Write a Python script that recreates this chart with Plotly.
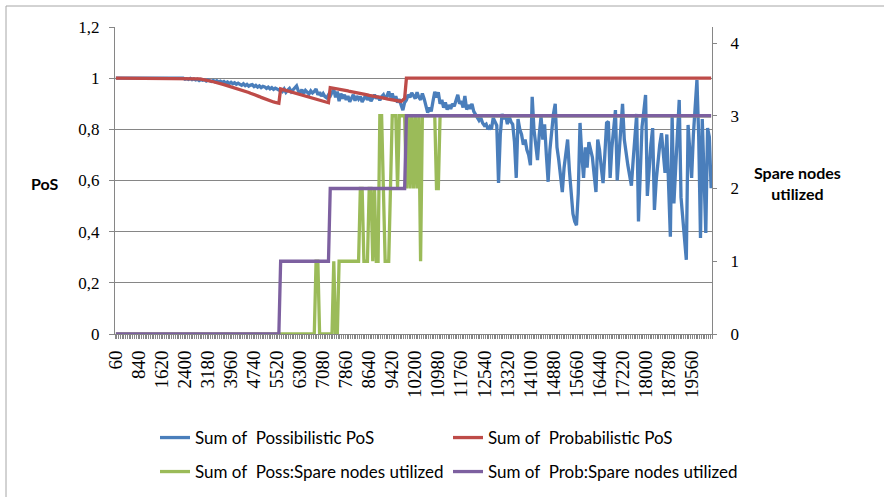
import plotly.graph_objects as go

# Elapsed time in seconds (one sample every 60 s) and the labelled categories
SECONDS = list(range(60, 20221, 60))
TICK_SECONDS = SECONDS[::13]
TICK_LABELS = [str(s) for s in TICK_SECONDS]

POS_TICKS = [0, 0.2, 0.4, 0.6, 0.8, 1.0, 1.2]
POS_TICK_TEXT = ["0", "0,2", "0,4", "0,6", "0,8", "1", "1,2"]
NODE_TICKS = [0, 1, 2, 3, 4]

POSSIBILISTIC_POS = (
    [1.0] * 36
    + [0.999, 0.997, 1.0, 0.996, 0.998, 0.995, 0.999, 0.994, 0.997, 0.993,
       0.996, 0.991, 0.995, 0.992, 0.994, 0.989, 0.993, 0.99, 0.987, 0.991,
       0.986, 0.99, 0.985, 0.988, 0.983, 0.987, 0.981, 0.985, 0.979, 0.984,
       0.978, 0.982, 0.976, 0.98, 0.977, 0.972, 0.978, 0.971, 0.976, 0.969,
       0.973, 0.975, 0.967, 0.972, 0.965, 0.97, 0.963, 0.968, 0.966, 0.96,
       0.965, 0.958, 0.963, 0.956, 0.961, 0.958, 0.954]
    + [0.955, 0.948, 0.958, 0.945, 0.953, 0.96, 0.947, 0.955, 0.962, 0.97,
       0.95, 0.943, 0.955, 0.94, 0.952, 0.946, 0.938, 0.95, 0.942, 0.948,
       0.958, 0.935, 0.945, 0.93, 0.94, 0.928, 0.923, 0.935]
    + [0.93, 0.945, 0.955, 0.925, 0.948, 0.91, 0.94, 0.92, 0.935, 0.915,
       0.93, 0.908, 0.925, 0.935, 0.912, 0.93, 0.918, 0.928, 0.907, 0.924,
       0.933, 0.915, 0.928, 0.91, 0.925, 0.935, 0.92, 0.93, 0.913, 0.928,
       0.935, 0.918, 0.93, 0.948, 0.925, 0.94, 0.915, 0.93, 0.905, 0.918,
       0.895, 0.875, 0.905]
    + [0.915, 0.935, 0.925, 0.943, 0.93, 0.92, 0.945, 0.925, 0.915, 0.94,
       0.92, 0.895, 0.865, 0.885, 0.87, 0.91, 0.947, 0.925, 0.945, 0.9,
       0.915, 0.885, 0.905, 0.877, 0.895, 0.88, 0.9, 0.89, 0.912, 0.935,
       0.9, 0.91, 0.885, 0.93, 0.877, 0.895, 0.88, 0.9, 0.87, 0.86,
       0.85, 0.835, 0.845, 0.825, 0.815, 0.82, 0.8, 0.81, 0.8, 0.845,
       0.83, 0.815]
    + [0.59, 0.78, 0.86, 0.84, 0.855, 0.82, 0.85, 0.83, 0.82, 0.75,
       0.61, 0.84, 0.8, 0.78, 0.74, 0.76, 0.72, 0.7, 0.66, 0.927,
       0.8, 0.75, 0.68, 0.78, 0.85, 0.76, 0.82, 0.7, 0.595, 0.72,
       0.8, 0.86, 0.9, 0.73, 0.68, 0.62, 0.555, 0.65, 0.72, 0.76,
       0.64, 0.535, 0.47, 0.44, 0.425, 0.55, 0.825, 0.7, 0.61, 0.73,
       0.65, 0.75, 0.72, 0.69, 0.62, 0.555, 0.76, 0.72, 0.65, 0.59,
       0.7, 0.825, 0.83, 0.61, 0.73, 0.8, 0.875, 0.6, 0.7, 0.8,
       0.9, 0.76, 0.7, 0.66, 0.62, 0.58, 0.68, 0.77, 0.86, 0.44,
       0.62, 0.81, 0.87, 0.934, 0.54, 0.65, 0.74, 0.805, 0.485, 0.6,
       0.69, 0.74, 0.785, 0.7, 0.63, 0.78, 0.58, 0.38, 0.85, 0.51,
       0.65, 0.8, 0.915, 0.535, 0.45, 0.37, 0.29, 0.817, 0.7, 0.61,
       0.78, 0.9, 0.993, 0.77, 0.375, 0.84, 0.6, 0.395, 0.805, 0.77,
       0.57]
)

PROBABILISTIC_POS = (
    [1.0] * 45
    + [0.999, 0.998, 0.997, 0.996, 0.995, 0.994, 0.992, 0.991, 0.989, 0.988,
       0.986, 0.984, 0.983, 0.981, 0.979, 0.977, 0.975, 0.973, 0.971, 0.969,
       0.967, 0.965, 0.963, 0.961, 0.958, 0.956, 0.954, 0.951, 0.949, 0.946,
       0.944, 0.941, 0.939, 0.936, 0.933, 0.931, 0.928, 0.925, 0.922, 0.92,
       0.917, 0.914, 0.912, 0.909, 0.907, 0.905, 0.903, 0.902]
    + [0.958, 0.956, 0.954, 0.952, 0.95, 0.948, 0.946, 0.944, 0.942, 0.94,
       0.938, 0.936, 0.934, 0.932, 0.93, 0.928, 0.926, 0.924, 0.922, 0.92,
       0.918, 0.916, 0.914, 0.912, 0.91, 0.908, 0.906, 0.904]
    + [0.963, 0.962, 0.96, 0.959, 0.958, 0.956, 0.955, 0.954, 0.952, 0.951,
       0.95, 0.948, 0.947, 0.945, 0.944, 0.943, 0.941, 0.94, 0.939, 0.937,
       0.936, 0.935, 0.933, 0.932, 0.93, 0.929, 0.928, 0.926, 0.925, 0.924,
       0.922, 0.921, 0.919, 0.918, 0.917, 0.915, 0.914, 0.913, 0.911, 0.91,
       0.909, 0.915, 0.921]
    + [1.0] * 173
)

POSS_SPARE_NODES = (
    [0] * 113 + [1] * 2 + [0] * 8 + [1] + [0] * 2 + [1] * 12 + [2] * 2 + [1] * 3
    + [2, 2, 1, 2, 1, 1]
    + [3, 3, 2, 1, 1, 1, 2]
    + [3, 3, 3, 2, 3, 3, 3, 3]
    + [2, 3, 2, 3, 2, 3, 2, 3, 1, 3]
    + [3] * 7 + [2] * 2 + [3] * 154
)

PROB_SPARE_NODES = [0] * 93 + [1] * 28 + [2] * 43 + [3] * 173

BLUE = "#4A7EBB"
RED = "#BE4B48"
GREEN = "#9BBB59"
PURPLE = "#7D60A0"
AXIS_GREY = "#868686"
LINE_W = 3.3

LEGEND_FONT = dict(family="Lato", size=17, color="#000000")
Y_TICK_FONT = dict(family="Liberation Serif", size=17, color="#000000")
X_TICK_FONT = dict(family="Liberation Serif", size=19, color="#000000")

fig = go.Figure()
fig.add_trace(go.Scatter(x=SECONDS, y=POSSIBILISTIC_POS, mode="lines",
                         name="Sum of\u00a0 Possibilistic PoS",
                         line=dict(color=BLUE, width=LINE_W), legend="legend"))
fig.add_trace(go.Scatter(x=SECONDS, y=PROBABILISTIC_POS, mode="lines",
                         name="Sum of\u00a0 Probabilistic PoS",
                         line=dict(color=RED, width=LINE_W), legend="legend"))
fig.add_trace(go.Scatter(x=SECONDS, y=POSS_SPARE_NODES, mode="lines", yaxis="y2",
                         name="Sum of\u00a0 Poss:Spare nodes utilized",
                         line=dict(color=GREEN, width=LINE_W), legend="legend2"))
fig.add_trace(go.Scatter(x=SECONDS, y=PROB_SPARE_NODES, mode="lines", yaxis="y2",
                         name="Sum of\u00a0 Prob:Spare nodes utilized",
                         line=dict(color=PURPLE, width=LINE_W), legend="legend2"))

PLOT_L, PLOT_R, PLOT_T, PLOT_B = 115, 712, 27, 334
W, H = 884, 497
pw, ph = PLOT_R - PLOT_L, PLOT_B - PLOT_T


def px_x(v):
    return (v - PLOT_L) / pw


def px_y(v):
    return (PLOT_B - v) / ph


legend_common = dict(orientation="h", xanchor="left", yanchor="middle",
                     xref="container", yref="container",
                     entrywidth=248, entrywidthmode="pixels", font=LEGEND_FONT,
                     bgcolor="rgba(0,0,0,0)", borderwidth=0, traceorder="normal")

fig.update_layout(
    width=W, height=H,
    margin=dict(l=PLOT_L, r=W - PLOT_R, t=PLOT_T, b=H - PLOT_B, pad=0,
                autoexpand=False),
    paper_bgcolor="white", plot_bgcolor="white",
    showlegend=True,
    legend=dict(x=155 / W, y=1 - 438 / H, **legend_common),
    legend2=dict(x=155 / W, y=1 - 472 / H, **legend_common),
    xaxis=dict(
        type="linear", range=[30, 20250], automargin=False,
        tickmode="array", tickvals=TICK_SECONDS, ticktext=TICK_LABELS,
        tickangle=-90, ticks="", showgrid=False, zeroline=False,
        showline=True, linecolor=AXIS_GREY, linewidth=1,
        tickfont=X_TICK_FONT, ticklabelstandoff=8,
        minor=dict(tickmode="linear", tick0=30, dtick=60, ticks="outside",
                   ticklen=4, tickwidth=1, tickcolor=AXIS_GREY, showgrid=False),
    ),
    yaxis=dict(
        range=[0, 1.2], automargin=False,
        tickmode="array", tickvals=POS_TICKS, ticktext=POS_TICK_TEXT,
        showgrid=True, gridcolor=AXIS_GREY, gridwidth=1, zeroline=False,
        showline=True, linecolor=AXIS_GREY, linewidth=1,
        ticks="outside", ticklen=5, tickwidth=1, tickcolor=AXIS_GREY,
        tickfont=Y_TICK_FONT, ticklabelstandoff=6,
    ),
    yaxis2=dict(
        overlaying="y", side="right", range=[0, 4.22], automargin=False,
        tickmode="array", tickvals=NODE_TICKS, ticktext=[str(v) for v in NODE_TICKS],
        showgrid=False, zeroline=False,
        showline=True, linecolor=AXIS_GREY, linewidth=1,
        ticks="outside", ticklen=4, tickwidth=1, tickcolor=AXIS_GREY,
        tickfont=Y_TICK_FONT, ticklabelstandoff=10,
    ),
    annotations=[
        dict(text="<b>PoS</b>", xref="paper", yref="paper",
             x=px_x(44), y=px_y(183), xanchor="center", yanchor="middle",
             showarrow=False, font=dict(family="Lato", size=16, color="#000000")),
        dict(text="<b>Spare nodes<br>utilized</b>", xref="paper", yref="paper",
             x=px_x(797), y=px_y(183), xanchor="center", yanchor="middle",
             showarrow=False, align="center",
             font=dict(family="Lato", size=16, color="#000000")),
    ],
    shapes=[
        dict(type="rect", xref="paper", yref="paper", layer="below",
             x0=px_x(6), x1=px_x(895), y0=px_y(510), y1=px_y(6),
             line=dict(color="#A6A6A6", width=1), fillcolor="rgba(0,0,0,0)"),
    ],
)

fig.write_html("out.html")
